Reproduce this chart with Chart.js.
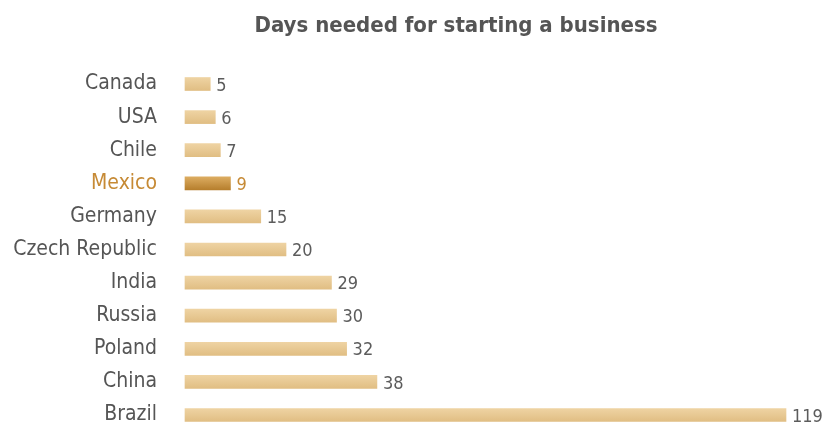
<!DOCTYPE html>
<html>
<head>
<meta charset="utf-8">
<script src="https://cdn.jsdelivr.net/npm/chart.js@4"></script>
<style>
  html, body { margin: 0; padding: 0; background: #fff; }
  canvas { display: block; }
</style>
</head>
<body>
<canvas id="bizchart" width="826" height="428"></canvas>
<script>
var countries = ['Canada', 'USA', 'Chile', 'Mexico', 'Germany', 'Czech Republic', 'India', 'Russia', 'Poland', 'China', 'Brazil'];
var days = [5, 6, 7, 9, 15, 20, 29, 30, 32, 38, 119];
var highlight = 'Mexico';
var heading = 'Days needed for starting a business';

var FONT = "'Liberation Sans Narrow', 'DejaVu Sans Condensed', Lato, sans-serif";
var grey = '#555555';
var orange = '#c68a35';

function barFill(c) {
  var chart = c.chart;
  var mexico = countries[c.dataIndex] == highlight;
  var flat = mexico ? '#c9954a' : '#e6c58c';
  var ys = chart.scales && chart.scales.y;
  if (!chart.chartArea || !ys) return flat;
  var y = ys.getPixelForValue(c.dataIndex);
  if (!isFinite(y)) return flat;
  var g = chart.ctx.createLinearGradient(0, y - 7, 0, y + 7);
  if (mexico) {
    g.addColorStop(0, '#deae63');
    g.addColorStop(1, '#b57d2b');
  } else {
    g.addColorStop(0, '#efd4a4');
    g.addColorStop(1, '#e0bd82');
  }
  return g;
}

// heading, a bit right of centre, over the bars
var heading_plugin = {
  id: 'heading',
  afterDraw: function(chart) {
    var ctx = chart.ctx;
    ctx.save();
    ctx.font = 'bold 22px ' + FONT;
    ctx.fillStyle = grey;
    ctx.textAlign = 'center';
    ctx.textBaseline = 'alphabetic';
    ctx.fillText(heading, 456, 32);
    ctx.restore();
  }
};

// numbers written just past the end of each bar
var valueLabels = {
  id: 'valueLabels',
  afterDatasetsDraw: function(chart) {
    var ctx = chart.ctx;
    var meta = chart.getDatasetMeta(0);
    ctx.save();
    ctx.font = '18px ' + FONT;
    ctx.textBaseline = 'middle';
    ctx.textAlign = 'left';
    meta.data.forEach(function(bar, i) {
      ctx.fillStyle = countries[i] == highlight ? orange : '#5c5c5c';
      ctx.fillText(days[i], bar.x + 6, bar.y + 2);
    });
    ctx.restore();
  }
};

config = {
  type: 'bar',
  data: {
    labels: countries,
    datasets: [{
      data: days,
      backgroundColor: barFill,
      barThickness: 13,
      borderWidth: 0,
      clip: false
    }]
  },
  options: {
    indexAxis: 'y',
    responsive: false,
    animation: false,
    layout: { padding: { left: 0, right: 40, top: 84, bottom: 13 } },
    plugins: {
      legend: { display: false },
      tooltip: { enabled: false },
      title: { display: false }
    },
    scales: {
      x: {
        display: false,
        min: 0,
        max: 119
      },
      y: {
        offset: false,
        grid: { display: false, drawTicks: false },
        border: { display: false },
        afterFit: function(s) {
          s.width = 185;
          s.paddingTop = 0;
          s.paddingBottom = 0;
        },
        ticks: {
          padding: 28,
          font: { family: FONT, size: 21 },
          color: function(c) { return countries[c.index] == highlight ? orange : grey; }
        }
      }
    }
  },
  plugins: [valueLabels, heading_plugin]
};

var chart = new Chart(document.getElementById('bizchart'), config);
</script>
</body>
</html>
